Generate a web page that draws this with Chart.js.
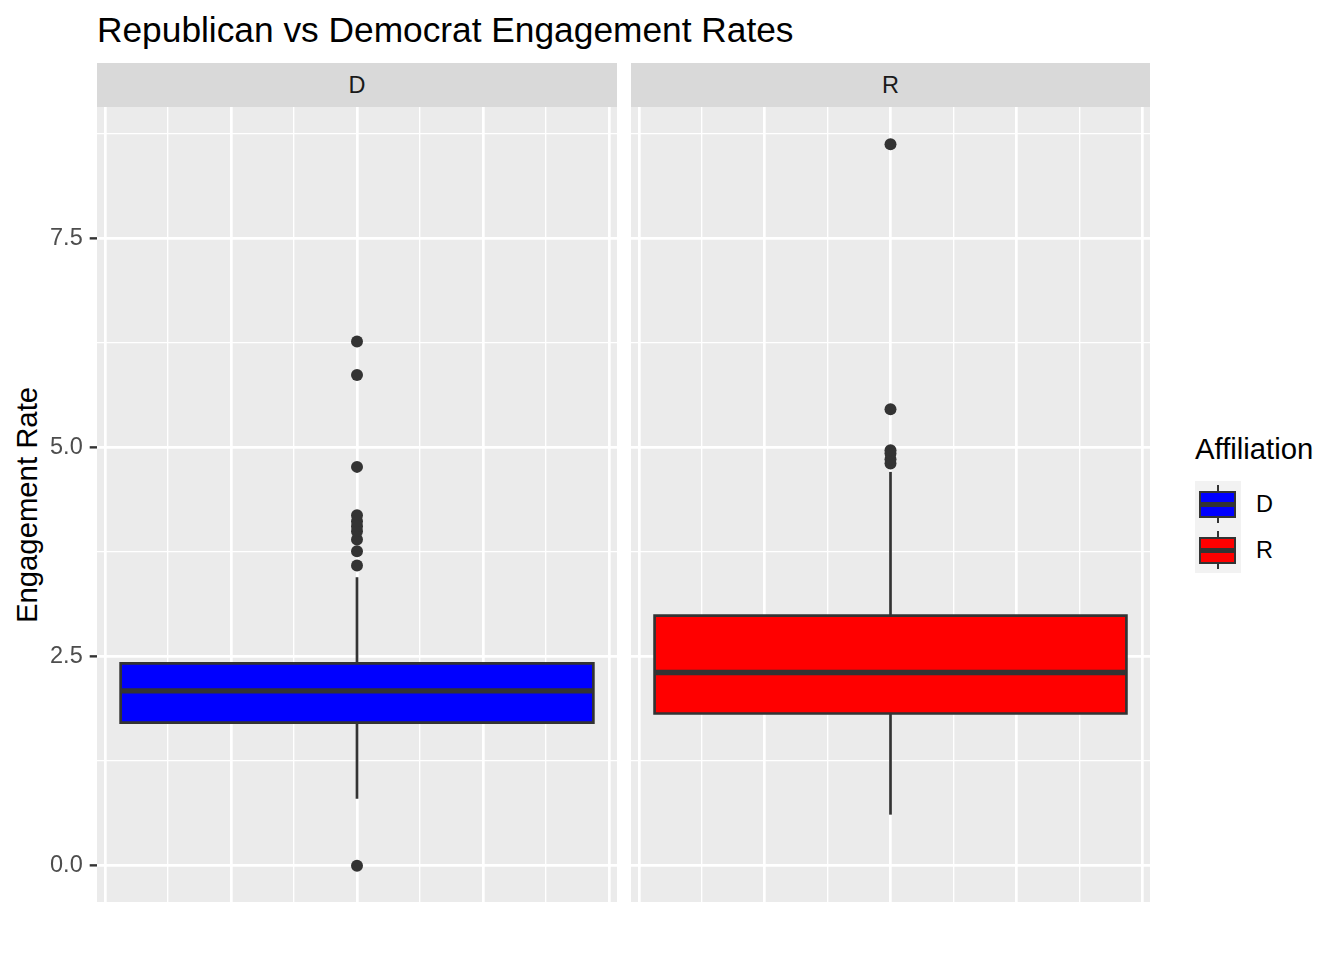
<!DOCTYPE html>
<html>
<head>
<meta charset="utf-8">
<script src="https://cdn.jsdelivr.net/npm/chart.js@4.4.1/dist/chart.umd.min.js"></script>
<style>
  body { margin: 0; background: #fff; font-family: "Liberation Sans", Arial, sans-serif; }
  #page { position: relative; width: 1344px; height: 960px; overflow: hidden; }
  #title { position: absolute; left: 97px; top: 12px; font-size: 35.3px; line-height: 35px; color: #000; white-space: nowrap; }
  .strip { position: absolute; top: 63px; height: 44px; line-height: 44px; background: #D9D9D9; color: #1A1A1A; font-size: 23.5px; text-align: center; }
  #ytitle { position: absolute; left: 27px; top: 505px; font-size: 29.3px; line-height: 30px; white-space: nowrap; transform: translate(-50%, -50%) rotate(-90deg); }
  canvas { position: absolute; }
  #legend-title { position: absolute; left: 1195px; top: 434px; font-size: 29.3px; line-height: 30px; }
  .key { position: absolute; left: 1195px; width: 46px; height: 46px; background: #F2F2F2; }
  .key .wh { position: absolute; left: 21.6px; width: 2.7px; background: #333; }
  .key .bx { position: absolute; left: 4px; top: 9.5px; width: 37px; height: 27px; box-sizing: border-box; border: 2.7px solid #333; }
  .key .md { position: absolute; left: 4px; top: 20.5px; width: 37px; height: 5px; background: #333; }
  .key-label { position: absolute; left: 1256px; font-size: 23.5px; line-height: 24px; color: #000; }
</style>
</head>
<body>
<div id="page">
  <div id="title">Republican vs Democrat Engagement Rates</div>
  <div class="strip" style="left:97px;width:520px;">D</div>
  <div class="strip" style="left:631px;width:519px;">R</div>
  <div id="ytitle">Engagement Rate</div>
  <canvas id="chartD" width="617" height="795" style="left:0;top:107px;"></canvas>
  <canvas id="chartR" width="519" height="795" style="left:631px;top:107px;"></canvas>

  <div id="legend-title">Affiliation</div>
  <div class="key" style="top:481px;">
    <div class="wh" style="top:4px;height:6px;"></div>
    <div class="bx" style="background:#0000FF;"></div>
    <div class="md"></div>
    <div class="wh" style="top:36px;height:6px;"></div>
  </div>
  <div class="key" style="top:527px;">
    <div class="wh" style="top:4px;height:6px;"></div>
    <div class="bx" style="background:#FF0000;"></div>
    <div class="md"></div>
    <div class="wh" style="top:36px;height:6px;"></div>
  </div>
  <div class="key-label" style="top:492px;">D</div>
  <div class="key-label" style="top:538px;">R</div>
</div>

<script>
// box plot summaries, one entry per affiliation
const groups = ['D', 'R'];
const boxColors = ['#0000FF', '#FF0000'];
const lowerWhisker = [0.80, 0.61];
const q1 = [1.71, 1.82];
const median = [2.09, 2.31];
const q3 = [2.42, 2.99];
const upperWhisker = [3.45, 4.71];
const outliersD = [0.0, 3.59, 3.76, 3.90, 4.00, 4.06, 4.12, 4.19, 4.77, 5.87, 6.27];
const outliersR = [4.81, 4.86, 4.93, 4.97, 5.46, 8.63];

const yTicks = [0, 1.25, 2.5, 3.75, 5, 6.25, 7.5, 8.75];
const yMajor = [0, 2.5, 5, 7.5];
const xTicks = [-0.4, -0.3, -0.2, -0.1, 0, 0.1, 0.2, 0.3, 0.4];
const xMajor = [-0.4, -0.2, 0, 0.2, 0.4];

const BOX_HALF = 0.375;
const INK = '#333333';

Chart.defaults.font.family = '"Liberation Sans", Arial, sans-serif';

const panelBackground = {
    id: 'panelBackground',
    beforeDraw(chart) {
        const a = chart.chartArea;
        const ctx = chart.ctx;
        ctx.save();
        ctx.fillStyle = '#EBEBEB';
        ctx.fillRect(a.left, a.top, a.right - a.left, a.bottom - a.top);
        ctx.restore();
    }
};

function isMajor(list, v) {
    return list.some(m => Math.abs(m - v) < 1e-9);
}

function boxDatasets(i, outliers) {
    const lo = -BOX_HALF, hi = BOX_HALF;
    const line = { showLine: true, pointRadius: 0, borderColor: INK, borderWidth: 2.7, fill: false };
    return [
        { ...line, data: [{ x: 0, y: lowerWhisker[i] }, { x: 0, y: q1[i] }], order: 6 },
        { ...line, data: [{ x: 0, y: q3[i] }, { x: 0, y: upperWhisker[i] }], order: 5 },
        // filled box: top edge filled down to the bottom edge (next dataset)
        { showLine: true, pointRadius: 0, borderWidth: 0, borderColor: 'rgba(0,0,0,0)',
          backgroundColor: boxColors[i], fill: '+1',
          data: [{ x: lo, y: q3[i] }, { x: hi, y: q3[i] }], order: 4 },
        { showLine: true, pointRadius: 0, borderWidth: 0, borderColor: 'rgba(0,0,0,0)',
          data: [{ x: lo, y: q1[i] }, { x: hi, y: q1[i] }], order: 3 },
        { ...line, borderJoinStyle: 'miter', borderCapStyle: 'square',
          data: [{ x: lo, y: q1[i] }, { x: lo, y: q3[i] }, { x: hi, y: q3[i] }, { x: hi, y: q1[i] }, { x: lo, y: q1[i] }],
          order: 2 },
        { ...line, borderWidth: 5.4, borderCapStyle: 'butt',
          data: [{ x: lo, y: median[i] }, { x: hi, y: median[i] }], order: 1 },
        { showLine: false, pointRadius: 6, pointBorderWidth: 0, pointBackgroundColor: INK,
          data: outliers.map(v => ({ x: 0, y: v })), order: 0 }
    ];
}

function makePanel(canvasId, i, outliers, showAxis) {
    return new Chart(document.getElementById(canvasId), {
        type: 'scatter',
        data: { datasets: boxDatasets(i, outliers) },
        plugins: [panelBackground],
        options: {
            responsive: false,
            animation: false,
            events: [],
            layout: { padding: 0, autoPadding: false },
            plugins: { legend: { display: false }, tooltip: { enabled: false }, title: { display: false } },
            scales: {
                x: {
                    type: 'linear',
                    min: -0.4125,
                    max: 0.4125,
                    afterBuildTicks: s => { s.ticks = xTicks.map(v => ({ value: v })); },
                    afterFit: s => { s.height = 0; s.paddingLeft = 0; s.paddingRight = 0; },
                    ticks: { display: false },
                    border: { display: false },
                    grid: {
                        color: '#FFFFFF',
                        drawTicks: false,
                        lineWidth: c => isMajor(xMajor, c.tick.value) ? 2.7 : 1.35
                    }
                },
                y: {
                    type: 'linear',
                    min: -0.435,
                    max: 9.075,
                    afterBuildTicks: s => { s.ticks = yTicks.map(v => ({ value: v })); },
                    afterFit: s => { s.width = showAxis ? 97 : 0; s.paddingTop = 0; s.paddingBottom = 0; },
                    ticks: {
                        display: showAxis,
                        autoSkip: false,
                        padding: 7,
                        color: '#4D4D4D',
                        font: { size: 23.5 },
                        callback: v => isMajor(yMajor, v) ? v.toFixed(1) : ''
                    },
                    border: { display: false },
                    grid: {
                        color: '#FFFFFF',
                        drawTicks: showAxis,
                        tickLength: 7.3,
                        tickColor: c => isMajor(yMajor, c.tick.value) ? INK : 'rgba(0,0,0,0)',
                        tickWidth: 2.4,
                        lineWidth: c => isMajor(yMajor, c.tick.value) ? 2.7 : 1.35
                    }
                }
            }
        }
    });
}

makePanel('chartD', 0, outliersD, true);
makePanel('chartR', 1, outliersR, false);
</script>
</body>
</html>
